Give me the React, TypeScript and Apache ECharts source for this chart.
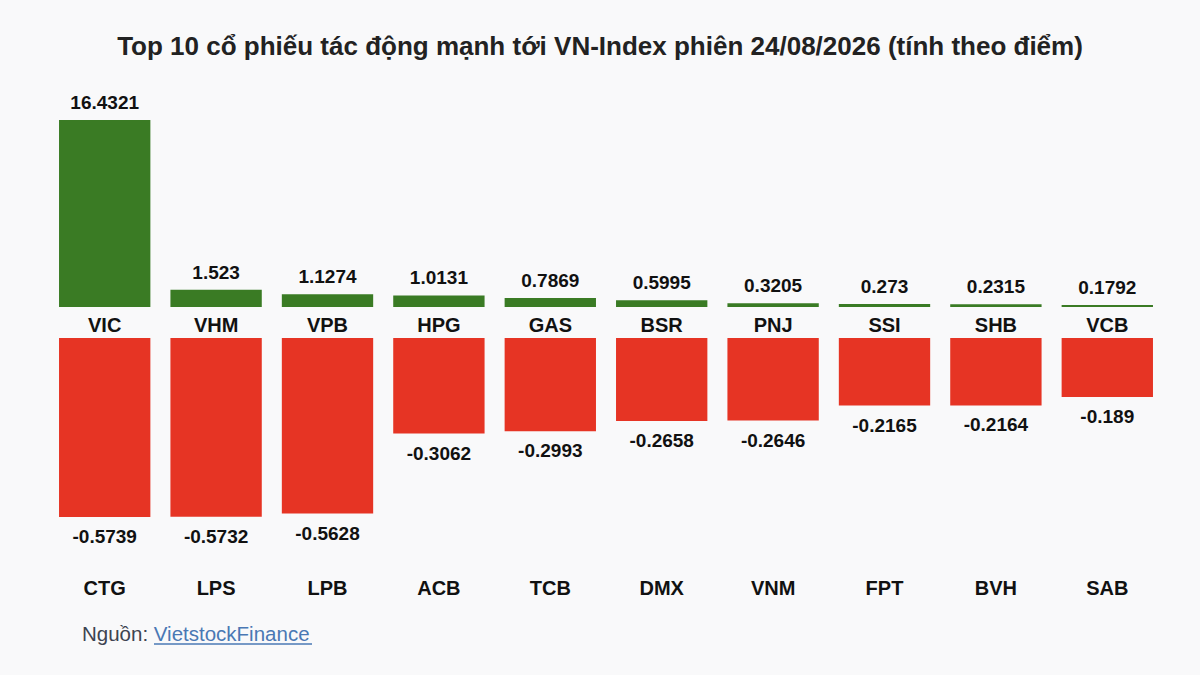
import React, { useEffect, useRef } from "react";
import * as echarts from "echarts";

const topCategories = ["VIC", "VHM", "VPB", "HPG", "GAS", "BSR", "PNJ", "SSI", "SHB", "VCB"];
const topValues = [16.4321, 1.523, 1.1274, 1.0131, 0.7869, 0.5995, 0.3205, 0.273, 0.2315, 0.1792];
const bottomCategories = ["CTG", "LPS", "LPB", "ACB", "TCB", "DMX", "VNM", "FPT", "BVH", "SAB"];
const bottomValues = [-0.5739, -0.5732, -0.5628, -0.3062, -0.2993, -0.2658, -0.2646, -0.2165, -0.2164, -0.189];

const titleText = "Top 10 cổ phiếu tác động mạnh tới VN-Index phiên 24/08/2026 (tính theo điểm)";
const sourceLabel = "Nguồn: ";
const sourceName = "VietstockFinance";

const FONT = "'Liberation Sans', Arial, Helvetica, sans-serif";
const GREEN = "#3a7b24";
const RED = "#e63424";
const BG = "#f9f9fa";

export default function App() {
  const ref = useRef<HTMLDivElement>(null);
  useEffect(() => {
    if (!ref.current) return;
    const chart = echarts.init(ref.current, null, { renderer: "svg" });
    const labelStyle = { fontFamily: FONT, fontWeight: "bold" as const, fontSize: 19, color: "#111" };
    chart.setOption({
      animation: false,
      backgroundColor: BG,
      title: {
        text: titleText,
        left: "center",
        top: 28,
        textStyle: { fontFamily: FONT, fontWeight: "bold", fontSize: 26, color: "#222" },
      },
      grid: [
        { left: 49, right: 37, top: 120, height: 187 },
        { left: 49, right: 37, top: 338, height: 179 },
      ],
      xAxis: [
        {
          type: "category",
          gridIndex: 0,
          data: topCategories,
          axisLine: { show: false },
          axisTick: { show: false },
          axisLabel: { margin: 8, ...labelStyle, fontSize: 20 },
        },
        {
          type: "category",
          gridIndex: 1,
          data: bottomCategories,
          position: "bottom",
          axisLine: { show: false, onZero: false },
          axisTick: { show: false },
          axisLabel: { margin: 61, ...labelStyle, fontSize: 20 },
        },
      ],
      yAxis: [
        { type: "value", gridIndex: 0, min: 0, max: 16.4321, show: false },
        { type: "value", gridIndex: 1, min: -0.5739, max: 0, show: false },
      ],
      series: [
        {
          type: "bar",
          xAxisIndex: 0,
          yAxisIndex: 0,
          data: topValues,
          barCategoryGap: "18%",
          itemStyle: { color: GREEN },
          label: { show: true, position: "top", distance: 8, ...labelStyle },
        },
        {
          type: "bar",
          xAxisIndex: 1,
          yAxisIndex: 1,
          data: bottomValues,
          barCategoryGap: "18%",
          itemStyle: { color: RED },
          label: { show: true, position: "bottom", distance: 10, ...labelStyle },
        },
      ],
      graphic: [
        {
          type: "text",
          left: 82,
          top: 623,
          style: {
            text: "{a|" + sourceLabel + "}{b|" + sourceName + "}",
            rich: {
              a: { fontFamily: FONT, fontSize: 20.5, fill: "#3d4350" },
              b: { fontFamily: FONT, fontSize: 20.5, fill: "#4a78b4" },
            },
          },
        },
        {
          type: "line",
          shape: { x1: 154, y1: 644, x2: 312, y2: 644 },
          style: { stroke: "#4a78b4", lineWidth: 1.3 },
        },
      ],
    });
    return () => chart.dispose();
  }, []);
  return (
    <div
      ref={ref}
      style={{ position: "fixed", left: 0, top: 0, width: 1200, height: 675 }}
    />
  );
}
